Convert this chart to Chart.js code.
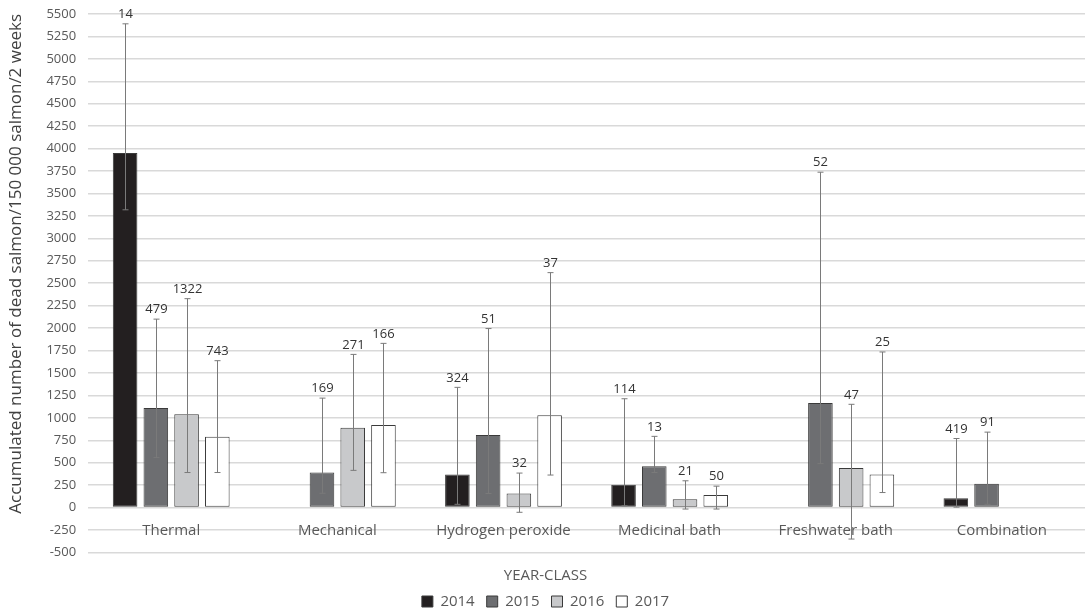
<!DOCTYPE html>
<html>
<head>
<meta charset="utf-8">
<script src="https://cdn.jsdelivr.net/npm/chart.js@4/dist/chart.umd.min.js"></script>
<style>
  html, body { margin: 0; padding: 0; background: #ffffff; }
  #wrap { width: 1091px; height: 609px; position: relative; }
</style>
</head>
<body>
<div id="wrap"><canvas id="chart"></canvas></div>
<script>
// Delousing method categories
const categories = ['Thermal', 'Mechanical', 'Hydrogen peroxide', 'Medicinal bath', 'Freshwater bath', 'Combination'];
const yearClasses = ['2014', '2015', '2016', '2017'];

// Mean accumulated dead salmon per 150 000 salmon per 2 weeks
const mean2014 = [3950, null, 370, 255, null, 105];
const mean2015 = [1110, 390, 810, 460, 1165, 265];
const mean2016 = [1040, 890, 157, 92, 441, null];
const mean2017 = [790, 920, 1030, 140, 370, null];

// Upper and lower ends of the error bars
const upper2014 = [5390, null, 1340, 1213, null, 770];
const upper2015 = [2100, 1220, 1995, 794, 3737, 841];
const upper2016 = [2328, 1707, 385, 299, 1151, null];
const upper2017 = [1637, 1830, 2618, 239, 1734, null];
const lower2014 = [3318, null, 37, 20, null, 5];
const lower2015 = [559, 160, 157, 391, 490, 37];
const lower2016 = [391, 415, -52, -16, -350, null];
const lower2017 = [391, 389, 363, -16, 168, null];

// Number of treatments behind each bar
const count2014 = [14, null, 324, 114, null, 419];
const count2015 = [479, 169, 51, 13, 52, 91];
const count2016 = [1322, 271, 32, 21, 47, null];
const count2017 = [743, 166, 37, 50, 25, null];

// Y axis range and tick step
const yMin = -500;
const yMax = 5500;
const yStep = 250;

const FONT = '"Open Sans", "DejaVu Sans", sans-serif';
const fills = ['#231f20', '#6d6e71', '#c8c9cb', '#ffffff'];

const means = [mean2014, mean2015, mean2016, mean2017];
const uppers = [upper2014, upper2015, upper2016, upper2017];
const lowers = [lower2014, lower2015, lower2016, lower2017];
const counts = [count2014, count2015, count2016, count2017];

const datasets = yearClasses.map((label, i) => ({
  label: label,
  data: means[i],
  upper: uppers[i],
  lower: lowers[i],
  counts: counts[i],
  backgroundColor: fills[i],
  borderColor: '#3a3a3a',
  borderWidth: 1,
  borderSkipped: false,
  categoryPercentage: 0.74,
  barPercentage: 0.8
}));

// Draws error bars and the count labels above them
const errorBarPlugin = {
  id: 'errorBars',
  afterDatasetsDraw(chart) {
    const ctx = chart.ctx;
    const y = chart.scales.y;
    ctx.save();
    chart.data.datasets.forEach((ds, i) => {
      const meta = chart.getDatasetMeta(i);
      meta.data.forEach((bar, j) => {
        if (ds.data[j] == null) return;
        const x = Math.round(bar.x) + 0.5;
        const yHi = y.getPixelForValue(ds.upper[j]);
        const yLo = y.getPixelForValue(ds.lower[j]);
        ctx.strokeStyle = '#7a7a7a';
        ctx.lineWidth = 1;
        ctx.beginPath();
        ctx.moveTo(x, yHi);
        ctx.lineTo(x, yLo);
        ctx.moveTo(x - 3, yHi);
        ctx.lineTo(x + 3, yHi);
        ctx.moveTo(x - 3, yLo);
        ctx.lineTo(x + 3, yLo);
        ctx.stroke();
        if (ds.counts[j] != null) {
          ctx.fillStyle = '#333333';
          ctx.font = '13px ' + FONT;
          ctx.textAlign = 'center';
          ctx.textBaseline = 'bottom';
          ctx.fillText(String(ds.counts[j]), x, yHi - 3);
        }
      });
    });
    ctx.restore();
  }
};

new Chart(document.getElementById('chart'), {
  type: 'bar',
  data: { labels: categories, datasets: datasets },
  options: {
    responsive: true,
    maintainAspectRatio: false,
    animation: false,
    layout: { padding: { top: 0, right: 6, left: 6, bottom: -10 } },
    scales: {
      x: {
        type: 'category',
        position: { y: 0 },
        grid: { display: false, drawTicks: false },
        border: { display: false },
        ticks: { color: '#595959', font: { family: FONT, size: 15 }, padding: 14, maxRotation: 0 }
      },
      y: {
        min: yMin,
        max: yMax,
        grid: { color: '#d9d9d9', lineWidth: 1.5, drawTicks: false },
        border: { display: false },
        ticks: {
          stepSize: yStep,
          color: '#595959',
          font: { family: FONT, size: 13, lineHeight: 0.3 },
          padding: 12,
          callback: (v) => String(v)
        },
        title: {
          display: true,
          align: 'end',
          text: 'Accumulated number of dead salmon/150 000 salmon/2 weeks',
          color: '#404040',
          font: { family: FONT, size: 17 },
          padding: { top: 0, bottom: 8 }
        }
      }
    },
    plugins: {
      legend: {
        position: 'bottom',
        title: {
          display: true,
          text: 'YEAR-CLASS',
          color: '#595959',
          font: { family: FONT, size: 15 },
          padding: { top: 16, bottom: -4.5 }
        },
        labels: {
          color: '#595959',
          font: { family: FONT, size: 15 },
          boxWidth: 11,
          boxHeight: 11,
          padding: 12
        }
      },
      tooltip: { enabled: false }
    }
  },
  plugins: [errorBarPlugin]
});
</script>
</body>
</html>
